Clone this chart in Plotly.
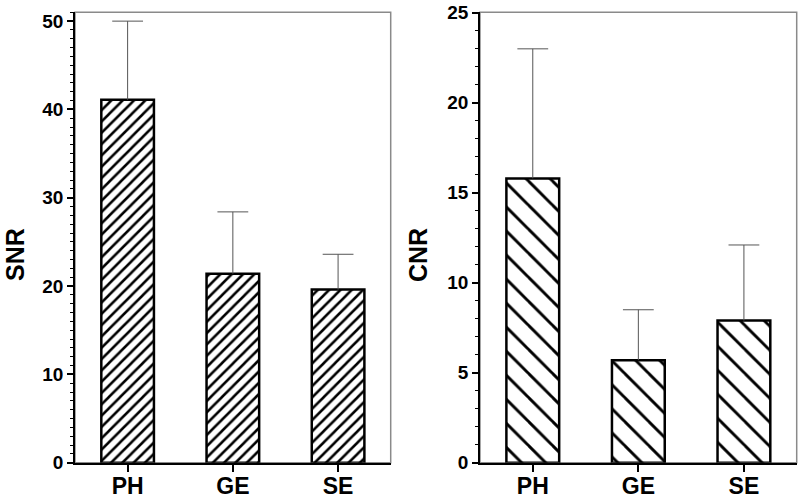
import plotly.graph_objects as go

categories = ["PH", "GE", "SE"]
snr_mean = [41.1, 21.4, 19.6]
snr_sd = [8.9, 7.0, 4.0]
cnr_mean = [15.8, 5.7, 7.9]
cnr_sd = [7.2, 2.8, 4.2]

FONT = "Liberation Sans, Arial, sans-serif"
ERR_COLOR = "#555555"

W, H = 800, 501


def px(x):
    return x / W


def py(y):
    return 1 - y / H


fig = go.Figure()


def add_panel(fig, means, sds, xa, ya, shape, psize, psol):
    fig.add_trace(go.Bar(
        x=categories, y=means, width=0.5, xaxis=xa, yaxis=ya,
        marker=dict(color="white", line=dict(color="black", width=2.5),
                    pattern=dict(shape=shape, size=psize, solidity=psol,
                                 fgcolor="black", bgcolor="white", fgopacity=1,
                                 fillmode="replace")),
        error_y=dict(type="data", symmetric=False, array=sds, arrayminus=[0] * len(sds),
                     color=ERR_COLOR, thickness=1, width=0),
        showlegend=False,
    ))
    fig.add_trace(go.Scatter(
        x=categories, y=[m + s for m, s in zip(means, sds)], mode="markers",
        xaxis=xa, yaxis=ya, cliponaxis=False, showlegend=False,
        marker=dict(symbol="line-ew", size=22, line=dict(color=ERR_COLOR, width=1)),
    ))


add_panel(fig, snr_mean, snr_sd, "x", "y", "/", 8, 0.32)
add_panel(fig, cnr_mean, cnr_sd, "x2", "y2", "\\", 17, 0.17)

ydom = [py(462.7), py(12.3)]
xdom1 = [px(75), px(390.7)]
xdom2 = [px(480), px(796.7)]

xcommon = dict(type="category", range=[-0.5, 2.5], showline=True, linecolor="black",
               linewidth=2, ticks="outside", ticklen=7, tickwidth=1.5, tickcolor="black",
               tickfont=dict(family=FONT, size=23, color="black", weight="bold"),
               ticklabelstandoff=-5,
               showgrid=False, zeroline=False, automargin=False, fixedrange=True)
ycommon = dict(showline=True, linecolor="black", linewidth=1.5, ticks="outside", ticklen=6,
               tickwidth=1.5, tickcolor="black", tick0=0, ticklabeloverflow="allow",
               tickfont=dict(family=FONT, size=19, color="black", weight="bold"),
               showgrid=False, zeroline=False, automargin=False, fixedrange=True,
               minor=dict(dtick=1, ticks="outside", ticklen=3, tickwidth=1, tickcolor="black",
                          showgrid=False))

fig.update_layout(
    width=W, height=H,
    margin=dict(l=0, r=0, t=0, b=0),
    paper_bgcolor="white", plot_bgcolor="white",
    font=dict(family=FONT, color="black"),
    showlegend=False,
    xaxis=dict(domain=xdom1, anchor="y", **xcommon),
    yaxis=dict(domain=ydom, anchor="x", range=[0, 51], dtick=10, **ycommon),
    xaxis2=dict(domain=xdom2, anchor="y2", **xcommon),
    yaxis2=dict(domain=ydom, anchor="x2", range=[0, 25.03], dtick=5, **ycommon),
    shapes=[
        dict(type="rect", xref="x domain", yref="y domain", x0=0, x1=1, y0=0, y1=1,
             line=dict(color="#8a8a8a", width=1.5), layer="below"),
        dict(type="rect", xref="x2 domain", yref="y2 domain", x0=0, x1=1, y0=0, y1=1,
             line=dict(color="#8a8a8a", width=1.5), layer="below"),
    ],
    annotations=[
        dict(text="<b>SNR</b>", x=px(15), y=py(255), xref="paper", yref="paper",
             textangle=-90, showarrow=False, font=dict(family=FONT, size=25, color="black"),
             xanchor="center", yanchor="middle"),
        dict(text="<b>CNR</b>", x=px(418), y=py(255), xref="paper", yref="paper",
             textangle=-90, showarrow=False, font=dict(family=FONT, size=25, color="black"),
             xanchor="center", yanchor="middle"),
    ],
)

fig.write_html(
    "out.html",
    config={"displayModeBar": False},
    post_script="document.body.style.margin='0';document.body.style.padding='0';"
                "document.body.style.overflow='hidden';",
)
